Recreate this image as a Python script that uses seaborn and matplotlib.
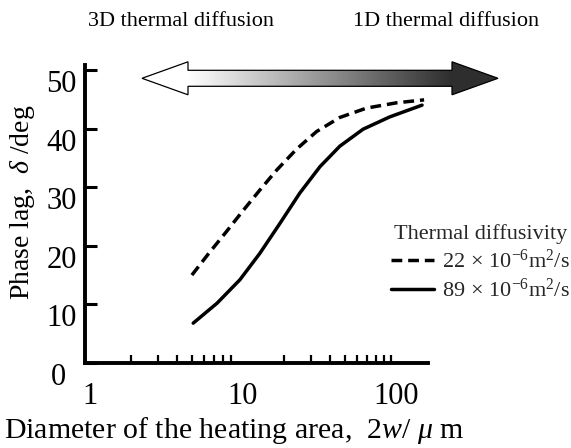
import numpy as np
import pandas as pd
import matplotlib
matplotlib.use("Agg")
import matplotlib.pyplot as plt
import matplotlib.transforms as mtrans
from matplotlib.colors import LinearSegmentedColormap
from matplotlib.patches import Polygon
from matplotlib.lines import Line2D
import seaborn as sns

# ---------------- data ----------------
d22 = [5.0, 6.4, 8.4, 10.8, 13.9, 17.9, 24.2, 32.7, 46.4, 69.4, 109.0, 165.0]
phase22 = [15.0, 18.6, 22.4, 26.0, 29.5, 32.9, 36.5, 39.5, 41.9, 43.5, 44.4, 44.9]
d89 = [5.1, 7.3, 10.3, 13.9, 18.8, 25.4, 34.4, 46.4, 65.9, 98.5, 160.0]
phase89 = [6.8, 10.2, 14.2, 18.7, 23.8, 29.0, 33.5, 37.0, 39.9, 42.0, 44.0]
series_labels = [r"$22\,\times\,10^{-6}$m$^2$/s", r"$89\,\times\,10^{-6}$m$^2$/s"]
xtick_vals = [1, 10, 100]
xtick_labels = ["1", "10", "100"]
xminor_vals = [2, 3, 4, 5, 6, 7, 8, 9, 20, 30, 40, 50, 60, 70, 80, 90, 100]
ytick_vals = [0, 10, 20, 30, 40, 50]
ytick_labels = ["0", "10", "20", "30", "40", "50"]
left_text = "3D thermal diffusion"
right_text = "1D thermal diffusion"
legend_title = "Thermal diffusivity"

df = pd.concat([
    pd.DataFrame({"d": d22, "phase": phase22, "series": series_labels[0]}),
    pd.DataFrame({"d": d89, "phase": phase89, "series": series_labels[1]}),
], ignore_index=True)

# ---------------- style ----------------
sns.set_theme(style="ticks")
plt.rcParams["font.family"] = ["Liberation Serif", "DejaVu Serif"]
plt.rcParams["mathtext.fontset"] = "custom"
plt.rcParams["mathtext.rm"] = "Liberation Serif"
plt.rcParams["mathtext.it"] = "Liberation Serif:italic"
plt.rcParams["mathtext.bf"] = "Liberation Serif:bold"

W, H = 571, 448
fig = plt.figure(figsize=(W / 100, H / 100), dpi=100)
fig.patch.set_facecolor("white")

ax_l, ax_r, ax_b, ax_t = 85, 428, 363, 65
ax = fig.add_axes([ax_l / W, (H - ax_b) / H, (ax_r - ax_l) / W, (ax_b - ax_t) / H])
ax.set_facecolor("none")

sns.lineplot(data=df, x="d", y="phase", style="series",
             dashes={series_labels[0]: (3.1, 1.7), series_labels[1]: ""},
             color="black", linewidth=2.5, sort=False, legend=False,
             estimator=None, ax=ax)
for ln in ax.get_lines():
    ln.set_solid_joinstyle("round")
    ln.set_dash_joinstyle("round")

ax.set_xscale("log")
ax.set_xlim(1, 175)
ax.set_ylim(0, 50.85)

for s in ["top", "right"]:
    ax.spines[s].set_visible(False)
for s in ["left", "bottom"]:
    ax.spines[s].set_linewidth(2.8)
    ax.spines[s].set_color("black")

ax.xaxis.remove_overlapping_locs = False
ax.set_xticks(xtick_vals, labels=xtick_labels)
ax.set_xticks(xminor_vals, minor=True)
ax.xaxis.set_minor_formatter(matplotlib.ticker.NullFormatter())
ax.set_yticks(ytick_vals, labels=ytick_labels)
ax.tick_params(axis="x", which="major", length=0, pad=14, labelsize=22, colors="black")
ax.tick_params(axis="x", which="minor", direction="in", length=6, width=1.6, color="black")
ax.tick_params(axis="y", which="major", direction="in", length=8.5, width=2.2,
               pad=6, labelsize=22, colors="black")
ax.tick_params(axis="y", which="minor", length=0)

# tick-label offsets seen in the reference
yoff = mtrans.ScaledTranslation(0, -11 / 100, fig.dpi_scale_trans)
for lab in ax.get_yticklabels():
    lab.set_transform(lab.get_transform() + yoff)
zero_off = mtrans.ScaledTranslation(-11 / 100, 0, fig.dpi_scale_trans)
ax.get_yticklabels()[0].set_transform(ax.get_yticklabels()[0].get_transform() + zero_off)
xoff = mtrans.ScaledTranslation(5 / 100, 0, fig.dpi_scale_trans)
for lab in ax.get_xticklabels():
    lab.set_transform(lab.get_transform() + xoff)

ax.set_xlabel(r"Diameter of the heating area,  $\mathit{2w/}$ $\mu$ m", fontsize=21.5, color="black")
ax.xaxis.set_label_coords((234 - ax_l) / (ax_r - ax_l), (ax_b - 430) / (ax_b - ax_t))
ax.xaxis.label.set_va("center")
ax.set_ylabel(r"Phase lag,  $\delta$ /deg", fontsize=20, color="black")
ax.yaxis.set_label_coords((23 - ax_l) / (ax_r - ax_l), (ax_b - 202) / (ax_b - ax_t))
ax.yaxis.label.set_va("center")

# legend
handles = [Line2D([], [], color="black", lw=2.5, dashes=(3.1, 1.7)),
           Line2D([], [], color="black", lw=2.5)]
leg = ax.legend(handles, series_labels, title=legend_title, frameon=False,
                fontsize=16, title_fontsize=16, handlelength=1.95,
                handletextpad=0.35, labelspacing=0.25, borderpad=0, borderaxespad=0,
                loc="upper left", bbox_to_anchor=(391 / W, (H - 224) / H),
                bbox_transform=fig.transFigure)
leg._legend_box.sep = 4

# ---------------- overlay: gradient double arrow + captions ----------------
ov = fig.add_axes([0, 0, 1, 1], zorder=5)
ov.set_xlim(0, W)
ov.set_ylim(H, 0)
ov.axis("off")

cy = 78.3
tipL, backL, backR, tipR = 142, 188, 452, 498
hh, sh = 16.5, 8.0
pts = [(tipL, cy), (backL, cy - hh), (backL, cy - sh), (backR, cy - sh), (backR, cy - hh),
       (tipR, cy), (backR, cy + hh), (backR, cy + sh), (backL, cy + sh), (backL, cy + hh)]
poly = Polygon(pts, closed=True, facecolor="none", edgecolor="black", lw=0.9, zorder=3)
ov.add_patch(poly)
cmap = LinearSegmentedColormap.from_list("g", ["#ffffff", "#2e2e2e"])
xs = np.linspace(tipL, tipR, 512)
grad = np.clip((xs - backL) / (backR - backL), 0, 1)[None, :]
im = ov.imshow(grad, cmap=cmap, vmin=0, vmax=1, aspect="auto",
               extent=[tipL, tipR, cy + hh, cy - hh], zorder=2, interpolation="bilinear")
im.set_clip_path(poly)
ov.set_xlim(0, W)
ov.set_ylim(H, 0)

ov.text(181, 22, left_text, ha="center", va="center", fontsize=16, color="black")
ov.text(446, 22, right_text, ha="center", va="center", fontsize=16, color="black")

fig.savefig("out.png", dpi=100, facecolor="white")
